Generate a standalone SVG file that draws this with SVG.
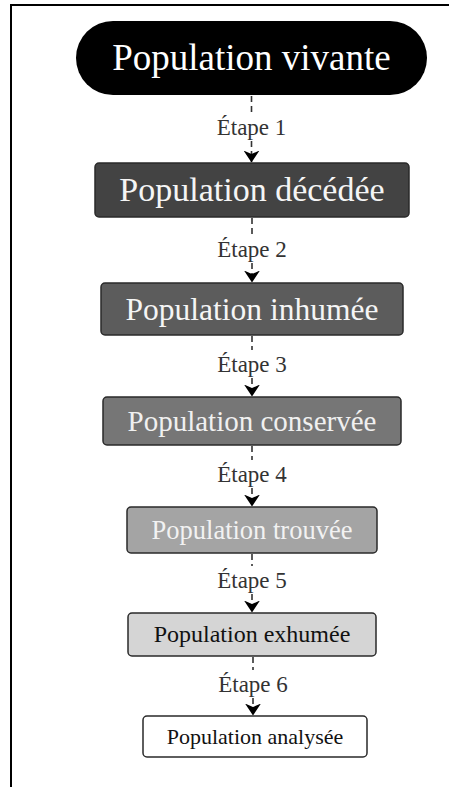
<svg xmlns="http://www.w3.org/2000/svg" width="449" height="787" viewBox="0 0 449 787">
<defs>
<style>
.box{stroke:#2a2a2a;stroke-width:1.5}
.t{font-family:"Liberation Serif","Times New Roman",serif;text-anchor:middle}
.lab{font-family:"Liberation Serif","Times New Roman",serif;font-size:23px;fill:#333;text-anchor:middle}
.dash{stroke:#333;stroke-width:1.6;stroke-dasharray:6 4;fill:none}
</style>
<marker id="ah" viewBox="0 0 12 16" refX="11.5" refY="8" markerWidth="12" markerHeight="16" markerUnits="userSpaceOnUse" orient="auto">
<path d="M0,0 L12,8 L0,16 L3.5,8 Z" fill="#000"/>
</marker>
</defs>
<rect width="449" height="787" fill="#fff"/>
<path d="M11,787 V5 H449" fill="none" stroke="#000" stroke-width="2"/>
<g id="connectors">
<line class="dash" x1="251.5" y1="96" x2="251.5" y2="113"/>
<line class="dash" x1="251.5" y1="141" x2="251.5" y2="162" marker-end="url(#ah)"/>
<line class="dash" x1="252" y1="218" x2="252" y2="235"/>
<line class="dash" x1="252" y1="263" x2="252" y2="282" marker-end="url(#ah)"/>
<line class="dash" x1="252" y1="336" x2="252" y2="350"/>
<line class="dash" x1="252" y1="378" x2="252" y2="396" marker-end="url(#ah)"/>
<line class="dash" x1="252" y1="446" x2="252" y2="460"/>
<line class="dash" x1="252" y1="488" x2="252" y2="506" marker-end="url(#ah)"/>
<line class="dash" x1="252" y1="554" x2="252" y2="566"/>
<line class="dash" x1="252" y1="594" x2="252" y2="612" marker-end="url(#ah)"/>
<line class="dash" x1="253" y1="657" x2="253" y2="670"/>
<line class="dash" x1="253" y1="698" x2="253" y2="715" marker-end="url(#ah)"/>
<text class="lab" x="251.5" y="135">Étape 1</text>
<text class="lab" x="252" y="257">Étape 2</text>
<text class="lab" x="252" y="372">Étape 3</text>
<text class="lab" x="252" y="482">Étape 4</text>
<text class="lab" x="252" y="588">Étape 5</text>
<text class="lab" x="253" y="692">Étape 6</text>
</g>
<g id="n1">
<rect x="76" y="21" width="351" height="74" rx="37" fill="#000"/>
<text class="t" x="251.5" y="70" font-size="37" fill="#fff">Population vivante</text>
</g>
<g id="n2">
<rect class="box" x="95" y="163" width="314" height="54" rx="4" fill="#434343"/>
<text class="t" x="252" y="201" font-size="34" fill="#f5f5f5">Population décédée</text>
</g>
<g id="n3">
<rect class="box" x="101" y="283" width="302" height="52" rx="4" fill="#5c5c5c"/>
<text class="t" x="252" y="320" font-size="31.5" fill="#f5f5f5">Population inhumée</text>
</g>
<g id="n4">
<rect class="box" x="103" y="397" width="298" height="48" rx="4" fill="#767676"/>
<text class="t" x="252" y="431" font-size="29" fill="#f0f0f0">Population conservée</text>
</g>
<g id="n5">
<rect class="box" x="127" y="507" width="250" height="46" rx="4" fill="#a4a4a4"/>
<text class="t" x="252" y="539" font-size="26.5" fill="#f2f2f2">Population trouvée</text>
</g>
<g id="n6">
<rect class="box" x="128" y="613" width="248" height="43" rx="4" fill="#d5d5d5"/>
<text class="t" x="252" y="642" font-size="24" fill="#111">Population exhumée</text>
</g>
<g id="n7">
<rect class="box" x="143" y="716" width="224" height="41" rx="4" fill="#fff"/>
<text class="t" x="255" y="744" font-size="22" fill="#111">Population analysée</text>
</g>
</svg>
